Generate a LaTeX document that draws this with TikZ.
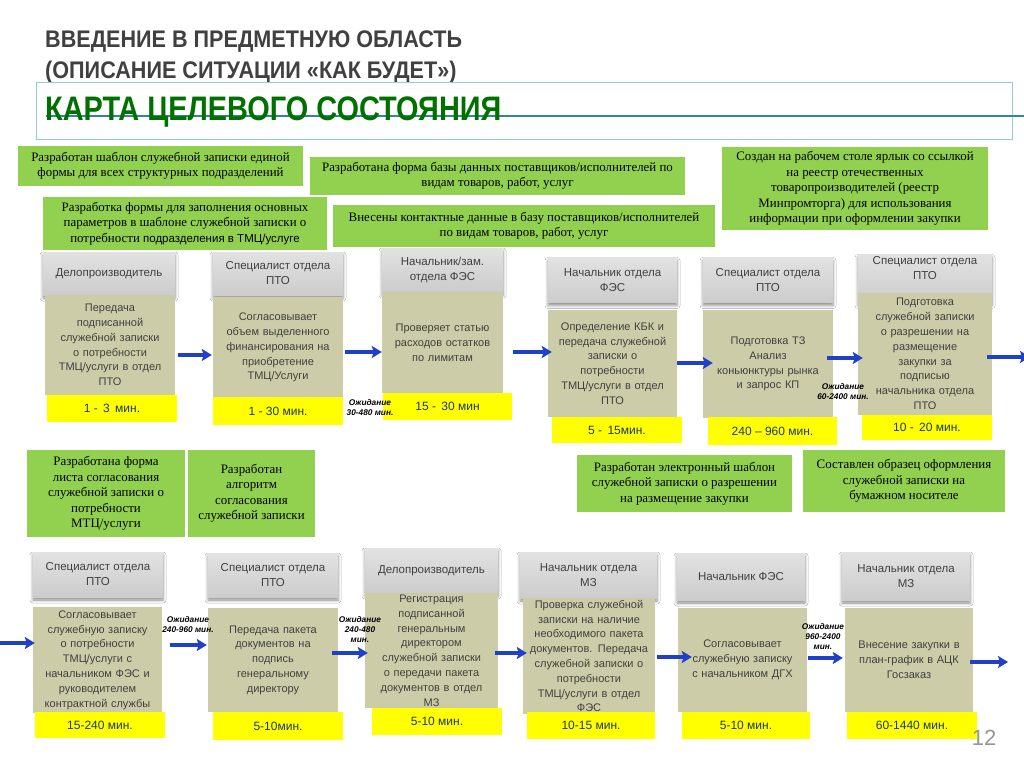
\documentclass[tikz,border=0pt]{standalone}
\usepackage{fontspec}
\setmainfont{Liberation Serif}
\setsansfont{Liberation Sans}
\newfontfamily\narrowfont[FakeStretch=0.9]{Liberation Sans}
\newfontfamily\narrowerfont[FakeStretch=0.85]{Liberation Sans}
\usetikzlibrary{calc,arrows.meta,shadows.blur}
\definecolor{grn}{RGB}{146,208,80}
\definecolor{hdrtop}{RGB}{226,226,226}
\definecolor{hdrbot}{RGB}{204,204,204}
\definecolor{khaki}{RGB}{205,204,168}
\definecolor{ylw}{RGB}{255,255,0}
\definecolor{navy}{RGB}{31,56,100}
\definecolor{txtgrey}{RGB}{64,64,64}
\definecolor{arrblue}{RGB}{32,64,200}
\definecolor{titlegrey}{RGB}{64,64,64}
\definecolor{titlegreen}{RGB}{0,112,0}
\definecolor{boxblue}{RGB}{146,205,220}
\definecolor{lineteal}{RGB}{49,133,155}
\definecolor{pagegrey}{RGB}{150,150,150}
\tikzset{
 gbox/.style={fill=grn, inner sep=2pt, align=center, text=black,
   font=\rmfamily\fontsize{12.9}{15.5}\selectfont},
 hdr/.style={top color=hdrtop, bottom color=hdrbot, inner sep=2pt, align=center,
   text=txtgrey, font=\sffamily\fontsize{11.5}{15}\selectfont,
   blur shadow={shadow xshift=0pt, shadow yshift=-3pt, shadow blur radius=3pt, shadow opacity=45}},
 body/.style={fill=khaki, inner sep=2pt, align=center, text=txtgrey,
   font=\sffamily\fontsize{11}{14.8}\selectfont},
 tbox/.style={fill=ylw, inner sep=2pt, align=center, text=navy,
   font=\sffamily\fontsize{12}{14}\selectfont},
 wait/.style={inner sep=0pt, align=center, text=black,
   font=\sffamily\bfseries\itshape\fontsize{8.3}{10}\selectfont},
 arr/.style={draw=arrblue, line width=3.5pt, -{Stealth[length=10pt,width=12pt,inset=2pt]}},
}
\begin{document}
\begin{tikzpicture}[x=1pt,y=-1pt]
\useasboundingbox (0,0) rectangle (1024,767);
\clip (0,0) rectangle (1024,767);
\fill[white] (0,0) rectangle (1024,767);

% title
\node[anchor=west, inner sep=0pt, text=titlegrey, font=\narrowfont\bfseries\fontsize{24}{28}\selectfont] (t1) at (45,42) {ВВЕДЕНИЕ В ПРЕДМЕТНУЮ ОБЛАСТЬ};
\node[anchor=west, inner sep=0pt, text=titlegrey, font=\narrowfont\bfseries\fontsize{24}{28}\selectfont] (t2) at (45,72) {(ОПИСАНИЕ СИТУАЦИИ «КАК БУДЕТ»)};
\node[draw=boxblue, line width=1pt, minimum width=976pt, minimum height=57pt, inner sep=0pt] (tb) at (524,111.5) {};
\draw[lineteal, line width=2.5pt] (46,116) -- (1024,116);
\node[anchor=west, inner sep=0pt, text=titlegreen, font=\narrowerfont\bfseries\fontsize{34}{38}\selectfont] (t3) at (45,112) {КАРТА ЦЕЛЕВОГО СОСТОЯНИЯ};

% green boxes top
\node[gbox, minimum width=285pt, minimum height=40pt] (g1) at (160.5,166) {Разработан шаблон служебной записки единой\\формы для всех структурных подразделений};
\node[gbox, minimum width=375pt, minimum height=38pt] (g2) at (497.5,176) {Разработана форма базы данных поставщиков/исполнителей по\\видам товаров, работ, услуг};
\node[gbox, minimum width=284pt, minimum height=53pt] (g3) at (185,223.5) {Разработка формы для заполнения основных\\параметров в шаблоне служебной записки о\\потребности {\sffamily\fontsize{11.5}{15.5}\selectfont подразделения в ТМЦ/услуге}};
\node[gbox, minimum width=382pt, minimum height=42pt] (g4) at (524,226) {Внесены контактные данные в базу поставщиков/исполнителей\\по видам товаров, работ, услуг};
\node[gbox, minimum width=266pt, minimum height=83pt] (g5) at (855,188.5) {Создан на рабочем столе ярлык со ссылкой\\на реестр отечественных\\товаропроизводителей (реестр\\Минпромторга) для использования\\информации при оформлении закупки};

% row 1
\node[hdr, minimum width=132pt, minimum height=43pt] (h1) at (109,273.5) {Делопроизводитель};
\node[body, minimum width=130pt, minimum height=100pt, text width=124pt] (b1) at (110,345) {Передача\\подписанной\\служебной записки\\о потребности\\ТМЦ/услуги в отдел\\ПТО};
\node[tbox, minimum width=130pt, minimum height=27pt] (y1) at (112,408.5) {1 - \,3 \,мин.};

\node[hdr, minimum width=130pt, minimum height=43pt] (h2) at (278,273.5) {Специалист отдела\\ПТО};
\node[body, minimum width=130pt, minimum height=101pt, text width=124pt] (b2) at (278,347.5) {Согласовывает\\объем выделенного\\финансирования на\\приобретение\\ТМЦ/Услуги};
\node[tbox, minimum width=130pt, minimum height=28pt] (y2) at (278,411) {1 - 30 мин.};

\node[hdr, minimum width=121pt, minimum height=44pt] (h3) at (442.5,270) {Начальник/зам.\\отдела ФЭС};
\node[body, minimum width=121pt, minimum height=101pt, text width=115pt] (b3) at (442.5,342.5) {Проверяет статью\\расходов остатков\\по лимитам};
\node[tbox, minimum width=129pt, minimum height=27pt] (y3) at (447.5,406.5) {15 - \,30 мин};

\node[hdr, minimum width=129pt, minimum height=45pt] (h4) at (612.5,280) {Начальник отдела\\ФЭС};
\node[body, minimum width=129pt, minimum height=107pt, text width=123pt] (b4) at (612.5,363.5) {Определение КБК и\\передача служебной\\записки о\\потребности\\ТМЦ/услуги в отдел\\ПТО};
\node[tbox, minimum width=130pt, minimum height=26pt] (y4) at (617,430) {5 - \,15мин.};

\node[hdr, minimum width=130pt, minimum height=45pt] (h5) at (768,280) {Специалист отдела\\ПТО};
\node[body, minimum width=130pt, minimum height=108pt, text width=124pt] (b5) at (768,364) {Подготовка ТЗ\\Анализ\\коньюнктуры рынка\\и запрос КП};
\node[tbox, minimum width=129pt, minimum height=28pt] (y5) at (772.5,431) {240 – 960 мин.};

\node[hdr, minimum width=134pt, minimum height=43pt] (h6) at (925,278.5) {Специалист отдела\\ПТО\\[6pt]};
\node[body, minimum width=134pt, minimum height=122pt, text width=128pt] (b6) at (925,354) {Подготовка\\служебной записки\\о разрешении на\\размещение\\закупки за\\подписью\\начальника отдела\\ПТО};
\node[tbox, minimum width=130pt, minimum height=25pt] (y6) at (927,427.5) {10 - \,20 мин.};

\node[wait] (w1) at (370,408) {Ожидание\\30-480 мин.};
\node[wait] (w2) at (843,392) {Ожидание\\60-2400 мин.};

% green boxes middle
\node[gbox, minimum width=158pt, minimum height=87pt] (g6) at (106,493.5) {Разработана форма\\листа согласования\\служебной записки о\\потребности\\МТЦ/услуги};
\node[gbox, minimum width=127pt, minimum height=87pt] (g7) at (251.5,493.5) {Разработан\\алгоритм\\согласования\\служебной записки};
\node[gbox, minimum width=215pt, minimum height=57pt] (g8) at (684.5,483.5) {Разработан электронный шаблон\\служебной записки о разрешении\\на размещение закупки};
\node[gbox, minimum width=202pt, minimum height=62pt] (g9) at (904,481) {Составлен образец оформления\\служебной записки на\\бумажном носителе};

% row 2
\node[hdr, minimum width=130pt, minimum height=45pt] (h7) at (98,574.5) {Специалист отдела\\ПТО};
\node[body, minimum width=129pt, minimum height=106pt, text width=125pt] (b7) at (97.5,660) {Согласовывает\\служебную записку\\о потребности\\ТМЦ/услуги с\\начальником ФЭС и\\руководителем\\контрактной службы};
\node[tbox, minimum width=130pt, minimum height=26pt] (y7) at (100,725) {15-240 мин.};

\node[hdr, minimum width=130pt, minimum height=44pt] (h8) at (273,575) {Специалист отдела\\ПТО};
\node[body, minimum width=130pt, minimum height=104pt, text width=124pt] (b8) at (273,660) {Передача пакета\\документов на\\подпись\\генеральному\\директору};
\node[tbox, minimum width=130pt, minimum height=28pt] (y8) at (278,726) {5-10мин.};

\node[hdr, minimum width=133pt, minimum height=45pt] (h9) at (431.5,570.5) {Делопроизводитель};
\node[body, minimum width=133pt, minimum height=115pt, text width=127pt] (b9) at (431.5,650.5) {Регистрация\\подписанной\\генеральным\\директором\\служебной записки\\о передачи пакета\\документов в отдел\\МЗ};
\node[tbox, minimum width=130pt, minimum height=27pt] (y9) at (437,721.5) {5-10 мин.};

\node[hdr, minimum width=137pt, minimum height=46pt] (h10) at (588.5,575) {Начальник отдела\\МЗ};
\node[body, minimum width=132pt, minimum height=112pt, text width=128pt] (b10) at (589,656) {Проверка служебной\\записки на наличие\\необходимого пакета\\документов. Передача\\служебной записки о\\потребности\\ТМЦ/услуги в отдел\\ФЭС};
\node[tbox, minimum width=128pt, minimum height=27pt] (y10) at (591,725.5) {10-15 мин.};

\node[hdr, minimum width=128pt, minimum height=47pt] (h11) at (741,576.5) {Начальник ФЭС};
\node[body, minimum width=129pt, minimum height=104pt, text width=125pt] (b11) at (742.5,660) {Согласовывает\\служебную записку\\с начальником ДГХ};
\node[tbox, minimum width=128pt, minimum height=27pt] (y11) at (746,725.5) {5-10 мин.};

\node[hdr, minimum width=128pt, minimum height=48pt] (h12) at (906,576) {Начальник отдела\\МЗ};
\node[body, minimum width=128pt, minimum height=104pt, text width=124pt] (b12) at (909,660) {Внесение закупки в\\план-график в АЦК\\Госзаказ};
\node[tbox, minimum width=130pt, minimum height=27pt] (y12) at (912,725.5) {60-1440 мин.};

\node[wait] (w3) at (188,625) {Ожидание\\240-960 мин.};
\node[wait] (w4) at (360,630) {Ожидание\\240-480\\мин.};
\node[wait] (w5) at (823,637) {Ожидание\\960-2400\\мин.};

\node[inner sep=0pt, text=pagegrey, font=\sffamily\fontsize{22}{24}\selectfont] (pg) at (984,738) {12};

% connectors
\coordinate (out1) at (1030,357);
\coordinate (in2) at (-2,643);
\coordinate (out2) at (1008,662);
\draw[arr] ($(b1.east)+(3,10)$) -- ($(b2.west)+(-1,7.5)$);
\draw[arr] ($(b2.east)+(2,4.5)$) -- ($(b3.west)+(0,9.5)$);
\draw[arr] ($(b3.east)+(10,9.5)$) -- ($(b4.west)+(4,-11.5)$);
\draw[arr] ($(b4.east)+(0,-0.5)$) -- ($(b5.west)+(10,-1)$);
\draw[arr] ($(b5.east)+(-6,-6)$) -- ($(b6.west)+(5,4)$);
\draw[arr] ($(b6.east)+(-5,3)$) -- (out1);
\draw[arr] (in2) -- ($(b7.west)+(2,-17)$);
\draw[arr] ($(b7.east)+(8,-15)$) -- ($(b8.west)+(-1,-15)$);
\draw[arr] ($(b8.east)+(-6,-7)$) -- ($(b9.west)+(3,2.5)$);
\draw[arr] ($(b9.east)+(-3,2.5)$) -- ($(b10.west)+(4,-3)$);
\draw[arr] ($(b10.east)+(2,1)$) -- ($(b11.west)+(14,-3)$);
\draw[arr] ($(b11.east)+(1,-2)$) -- ($(b12.west)+(-2,-2)$);
\draw[arr] ($(b12.east)+(-3,2)$) -- (out2);
\end{tikzpicture}
\end{document}
